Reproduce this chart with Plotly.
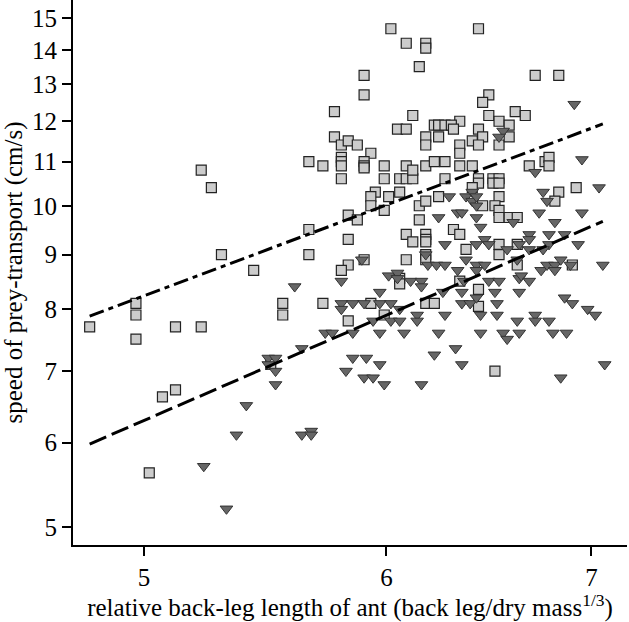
import plotly.graph_objects as go

# Light-grey squares (upper group)
sq_x = [4.80, 4.97, 4.97, 4.97, 5.02, 5.07, 5.12, 5.12, 5.22, 5.22, 5.26, 5.30, 5.43, 5.55, 5.55, 5.50,
        5.66, 5.66, 5.66, 5.72, 5.72, 5.77, 5.77, 5.80, 5.83, 5.87, 5.93, 5.80, 5.80, 5.80, 5.80,
        5.90, 5.90, 5.90, 5.90, 5.90, 5.99, 5.99, 6.06, 6.09, 6.12, 6.09, 6.12,
        6.18, 6.22, 6.27, 6.34, 6.40, 6.18, 6.18, 6.24, 6.34, 6.34,
        6.40, 6.43, 6.45, 6.43, 6.53, 6.58, 6.43, 6.43, 6.50, 6.53, 6.50, 6.53,
        6.68, 6.76, 6.78, 6.78, 6.92, 6.83, 6.81, 6.40, 6.27,
        5.95, 5.93, 5.93, 6.01, 6.06, 5.99, 6.15, 6.18, 6.24, 6.15,
        6.53, 6.45, 6.51, 6.53, 6.53, 6.58, 6.62, 5.83, 5.87, 5.83,
        6.09, 6.12, 6.18, 6.18, 6.18, 6.31, 6.34, 6.37, 6.53, 6.53, 6.62,
        5.83, 5.80, 5.90, 6.09, 6.18, 6.18, 6.06, 6.06, 6.34, 6.43, 6.90, 6.62,
        5.93, 6.18, 6.22, 6.43, 5.83, 5.99, 6.51,
        6.02, 6.43, 6.09, 6.18, 6.18, 6.15, 6.71, 6.83,
        6.12, 6.48, 6.45, 6.48, 6.61, 6.66, 6.34, 6.53, 6.58,
        6.22, 6.24, 6.27, 6.30, 6.05, 6.09, 6.31]
sq_y = [7.7, 8.1, 7.9, 7.5, 5.62, 6.62, 6.72, 7.7, 7.7, 10.8, 10.4, 9.0, 8.7, 8.1, 7.9, 7.1,
        11.0, 9.5, 9.0, 10.9, 8.1, 12.25, 11.6, 11.4, 11.5, 11.4, 11.2, 11.1, 11.0, 10.9, 10.6,
        11.0, 10.9, 10.85, 13.25, 12.7, 10.9, 10.6, 10.6, 10.6, 10.6, 10.9, 10.8,
        10.9, 11.0, 11.0, 10.9, 10.9, 11.6, 11.4, 11.6, 11.4, 11.2,
        11.5, 11.8, 11.6, 11.4, 11.4, 11.6, 10.6, 10.5, 10.6, 10.6, 10.5, 10.5,
        10.9, 11.0, 11.1, 10.9, 10.4, 10.3, 10.1, 10.4, 10.6,
        10.3, 10.2, 10.0, 10.2, 10.3, 9.9, 10.0, 10.1, 10.2, 9.7,
        10.2, 10.0, 10.0, 9.9, 9.75, 9.75, 9.75, 9.8, 9.7, 9.3,
        9.4, 9.25, 9.4, 9.3, 9.25, 9.5, 9.4, 9.1, 9.2, 9.0, 9.2,
        8.8, 8.7, 8.9, 8.9, 9.0, 8.9, 8.55, 8.45, 8.5, 8.35, 8.8, 8.8,
        8.1, 8.1, 8.1, 8.05, 7.8, 7.9, 7.0,
        14.65, 14.65, 14.2, 14.2, 14.05, 13.5, 13.25, 13.25,
        12.15, 12.7, 12.5, 12.15, 12.25, 12.15, 12.0, 12.0, 11.9,
        11.9, 11.9, 11.9, 11.9, 11.8, 11.8, 11.8]

# Dark-grey downward triangles (lower group)
tri_x = [5.23, 5.32, 5.36, 5.40, 5.49, 5.52, 5.49, 5.52, 5.52, 5.60, 5.63, 5.63, 5.67, 5.67,
         5.73, 5.76, 5.85, 5.97, 5.80, 5.80, 5.80, 5.85, 5.90, 5.97, 6.02,
         6.06, 6.02, 6.06, 5.94, 5.85, 5.91, 5.82, 5.97, 5.90, 5.94, 5.99,
         5.89, 5.97, 6.01, 6.05, 6.05, 6.11, 6.16, 6.16, 6.18, 6.19, 6.23, 6.27,
         6.33, 6.37, 6.42, 6.46, 6.42, 6.36, 6.48, 6.53, 6.26, 6.35, 6.51, 6.63,
         6.35, 6.39, 6.42, 6.52, 6.14, 6.14, 6.27, 6.44, 6.52,
         6.08, 6.24, 6.44, 6.55, 6.57, 6.32, 6.22, 6.35, 6.16,
         6.63, 6.62, 6.64, 6.68, 6.74, 6.77, 6.81, 6.81, 6.84, 6.89, 7.06,
         6.86, 6.90, 6.98, 7.02, 6.62, 6.71, 6.71, 6.78, 6.63, 6.80, 6.87, 7.07, 6.84,
         6.91, 6.55, 6.53, 6.95, 6.71, 7.04, 6.75, 6.77, 6.73, 6.95, 6.81,
         6.29, 6.37, 6.40, 6.42, 6.40, 6.42, 6.24, 6.33, 6.35, 6.42, 6.44, 6.60,
         6.68, 6.68, 6.68, 6.78, 6.78, 6.86, 6.93, 6.75, 6.63,
         6.27, 6.42, 6.46, 6.48, 6.57]
tri_y = [5.7, 5.2, 6.1, 6.5, 7.2, 7.2, 7.1, 7.0, 6.8, 8.4, 7.35, 6.1, 6.15, 6.1,
         7.6, 7.6, 7.6, 7.6, 8.5, 8.1, 8.0, 8.1, 8.1, 8.1, 8.1,
         8.0, 7.8, 7.8, 7.8, 7.2, 7.2, 7.0, 7.1, 6.9, 6.9, 6.8,
         8.9, 8.3, 8.6, 8.65, 8.55, 8.5, 8.5, 8.4, 9.0, 8.8, 8.8, 8.8,
         8.7, 8.9, 8.8, 8.8, 8.7, 8.5, 8.5, 8.5, 8.3, 8.3, 8.3, 8.3,
         8.1, 8.1, 8.2, 8.1, 7.9, 7.8, 7.9, 7.9, 7.9,
         7.6, 7.6, 7.6, 7.6, 7.5, 7.35, 7.25, 7.1, 6.8,
         8.55, 8.9, 8.6, 8.5, 8.7, 8.8, 8.8, 8.7, 8.9, 8.8, 8.8,
         8.2, 8.1, 8.0, 7.9, 7.8, 7.9, 7.8, 7.8, 7.6, 7.6, 7.6, 7.1, 6.9,
         12.45, 11.75, 11.6, 11.05, 10.75, 10.4, 10.3, 10.1, 9.85, 9.85, 9.65,
         10.2, 10.2, 10.1, 10.0, 10.3, 10.2, 9.75, 9.85, 9.85, 9.75, 9.55, 9.65,
         9.4, 9.3, 9.1, 9.4, 9.2, 9.4, 9.2, 9.1, 9.2,
         9.2, 9.2, 9.3, 9.2, 9.1]

# Fitted lines (log-log), endpoints
fit_x = [4.80, 7.06]
fit_sq_y = [7.88, 11.93]
fit_tri_y = [5.98, 9.67]

x_ticks = [5, 6, 7]
y_ticks = [5, 6, 7, 8, 9, 10, 11, 12, 13, 14, 15]

font_family = "Liberation Serif, Times New Roman, serif"

fig = go.Figure()
fig.add_trace(go.Scatter(
    x=sq_x, y=sq_y, mode="markers",
    marker=dict(symbol="square", size=10, color="#cccccc",
                line=dict(color="#222222", width=1.2)),
    showlegend=False))
fig.add_trace(go.Scatter(
    x=tri_x, y=tri_y, mode="markers",
    marker=dict(symbol="triangle-down", size=11, color="#666666",
                line=dict(color="#333333", width=1)),
    showlegend=False))
fig.add_trace(go.Scatter(
    x=fit_x, y=fit_sq_y, mode="lines",
    line=dict(color="black", width=3, dash="15px,5px,5px,5px"),
    showlegend=False))
fig.add_trace(go.Scatter(
    x=fit_x, y=fit_tri_y, mode="lines",
    line=dict(color="black", width=3, dash="18px,6px"),
    showlegend=False))

fig.update_layout(
    width=629, height=622,
    margin=dict(l=73, r=2, t=0, b=77, autoexpand=False),
    paper_bgcolor="white", plot_bgcolor="white",
    font=dict(family=font_family, size=25, color="black"),
)
fig.update_xaxes(
    type="log", range=[0.6758, 0.8567], automargin=False,
    tickvals=x_ticks, ticktext=[str(v) for v in x_ticks],
    ticks="outside", ticklen=9, tickwidth=2, tickcolor="black",
    showline=True, linewidth=2, linecolor="black",
    showgrid=False, zeroline=False,
    tickfont=dict(family=font_family, size=25),
    title=dict(text="relative back-leg length of ant (back leg/dry mass<sup>1/3</sup>)",
               font=dict(family=font_family, size=25), standoff=8),
)
fig.update_yaxes(
    type="log", range=[0.6821, 1.1928], automargin=False,
    tickvals=y_ticks, ticktext=[str(v) for v in y_ticks],
    ticks="outside", ticklen=9, tickwidth=2, tickcolor="black",
    showline=True, linewidth=2, linecolor="black",
    showgrid=False, zeroline=False,
    tickfont=dict(family=font_family, size=25),
    title=dict(text="speed of prey-transport (cm/s)",
               font=dict(family=font_family, size=25), standoff=3),
)

fig.write_html(
    "out.html",
    config={"displayModeBar": False},
    post_script="document.body.style.margin='0';document.body.style.overflow='hidden';",
)
